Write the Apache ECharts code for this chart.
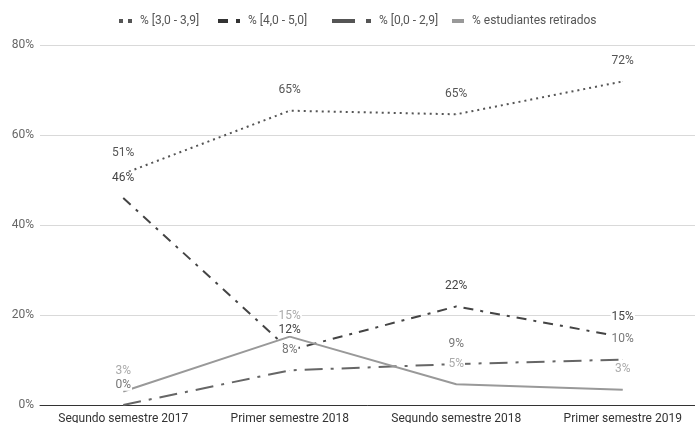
<!DOCTYPE html>
<html>
<head>
<meta charset="utf-8">
<script src="https://cdn.jsdelivr.net/npm/echarts@6/dist/echarts.min.js"></script>
<style>
  html, body { margin: 0; padding: 0; background: #fff; }
  #main { width: 695px; height: 423px; }
</style>
</head>
<body>
<div id="main"></div>
<script>
// datos
var categorias = ['Segundo semestre 2017', 'Primer semestre 2018', 'Segundo semestre 2018', 'Primer semestre 2019'];
var rango3a39 = [51.4, 65.4, 64.6, 71.9];
var rango4a5 = [46, 12.2, 21.9, 15.1];
var rango0a29 = [0, 7.7, 9.1, 10.1];
var retirados = [3, 15.2, 4.6, 3.4];
var ticksY = [0, 20, 40, 60, 80];

var myChart = echarts.init(document.getElementById('main'));

function etiqueta(color) {
    return {
        show: true,
        position: 'top',
        distance: 14,
        color: color,
        fontSize: 12,
        fontFamily: 'Roboto',
        backgroundColor: '#fff',
        padding: [0, 1],
        formatter: function (p) { return Math.round(p.value) + '%'; }
    };
}

// una leyenda por serie, cada una con su icono
function leyenda(nombre, left, ancho, icono, color) {
    return {
        data: [{ name: nombre, icon: icono, itemStyle: { color: color } }],
        top: 10,
        left: left,
        itemWidth: ancho,
        itemHeight: 4,
        itemGap: 0,
        textStyle: { color: '#555', fontSize: 12, fontFamily: 'Roboto', padding: [0, 0, 0, 3] }
    };
}

var option = {
    textStyle: { fontFamily: 'Roboto' },
    legend: [
        leyenda('% [3,0 - 3,9]', 114, 13, 'path://M0,0h4v4h-4zM9,0h4v4h-4z', '#555'),
        leyenda('% [4,0 - 5,0]', 213, 22, 'path://M0,0h10v4h-10zM18,0h4v4h-4z', '#333'),
        leyenda('% [0,0 - 2,9]', 327, 39, 'path://M0,0h23v4h-23zM34,0h5v4h-5z', '#555'),
        leyenda('% estudiantes retirados', 447, 12, 'path://M0,0h12v4h-12z', '#999')
    ],
    grid: { left: 40, width: 666, top: 45, bottom: 18, containLabel: false, outerBoundsMode: 'none' },
    xAxis: {
        type: 'category',
        data: categorias,
        axisTick: { show: false },
        axisLine: { lineStyle: { color: '#333', width: 1 } },
        axisLabel: { color: '#333', fontSize: 12, margin: 8, interval: 0 }
    },
    yAxis: {
        type: 'value',
        min: ticksY[0],
        max: ticksY[ticksY.length - 1],
        interval: 20,
        axisLine: { show: false },
        axisTick: { show: false },
        axisLabel: { color: '#666', fontSize: 12, formatter: '{value}%', margin: 6 },
        splitLine: { lineStyle: { color: '#d9d9d9' } }
    },
    series: [
        {
            name: '% [3,0 - 3,9]',
            type: 'line',
            data: rango3a39,
            symbol: 'circle',
            symbolSize: 0.5,
            lineStyle: { color: '#555', width: 2, type: [2, 4] },
            itemStyle: { color: '#555' },
            label: etiqueta('#555')
        },
        {
            name: '% [4,0 - 5,0]',
            type: 'line',
            data: rango4a5,
            symbol: 'circle',
            symbolSize: 0.5,
            lineStyle: { color: '#444', width: 2, type: [10, 7, 3, 7] },
            itemStyle: { color: '#444' },
            label: etiqueta('#444')
        },
        {
            name: '% [0,0 - 2,9]',
            type: 'line',
            data: rango0a29,
            symbol: 'circle',
            symbolSize: 0.5,
            lineStyle: { color: '#666', width: 2, type: [18, 8, 3, 8] },
            itemStyle: { color: '#666' },
            label: etiqueta('#777')
        },
        {
            name: '% estudiantes retirados',
            type: 'line',
            data: retirados,
            symbol: 'circle',
            symbolSize: 0.5,
            lineStyle: { color: '#999', width: 2 },
            itemStyle: { color: '#999' },
            label: etiqueta('#aaa')
        }
    ]
};

myChart.setOption(option);
</script>
</body>
</html>
